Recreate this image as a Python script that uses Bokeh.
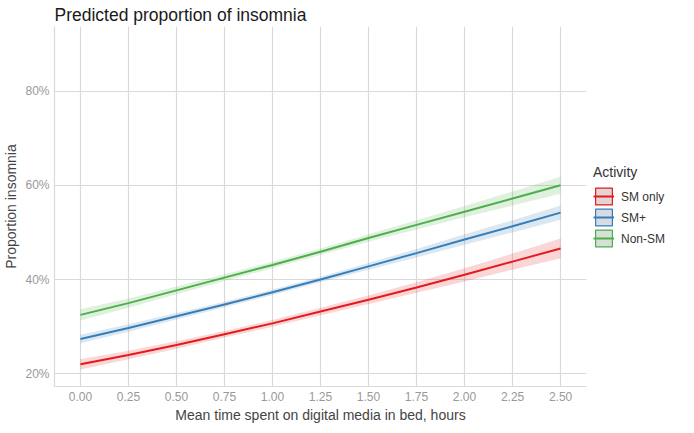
from bokeh.plotting import figure
from bokeh.models import Range1d, FixedTicker, NumeralTickFormatter, Legend, LegendItem
from bokeh.embed import file_html
from bokeh.resources import INLINE

# ---- data ----
hours = [0.0, 0.25, 0.5, 0.75, 1.0, 1.25, 1.5, 1.75, 2.0, 2.25, 2.5]

sm_only_fit = [0.220, 0.240, 0.261, 0.284, 0.307, 0.332, 0.357, 0.383, 0.410, 0.438, 0.466]
sm_only_lo = [0.209, 0.231, 0.253, 0.277, 0.300, 0.324, 0.348, 0.372, 0.396, 0.421, 0.445]
sm_only_hi = [0.231, 0.249, 0.269, 0.291, 0.314, 0.340, 0.366, 0.394, 0.424, 0.455, 0.487]

sm_plus_fit = [0.274, 0.297, 0.322, 0.347, 0.373, 0.400, 0.428, 0.456, 0.485, 0.513, 0.542]
sm_plus_lo = [0.265, 0.289, 0.315, 0.341, 0.367, 0.394, 0.421, 0.447, 0.474, 0.500, 0.527]
sm_plus_hi = [0.283, 0.305, 0.329, 0.353, 0.379, 0.406, 0.435, 0.465, 0.496, 0.526, 0.557]

non_sm_fit = [0.325, 0.350, 0.377, 0.404, 0.431, 0.459, 0.488, 0.516, 0.544, 0.572, 0.600]
non_sm_lo = [0.313, 0.340, 0.369, 0.397, 0.424, 0.452, 0.480, 0.506, 0.532, 0.557, 0.582]
non_sm_hi = [0.337, 0.360, 0.385, 0.411, 0.438, 0.466, 0.496, 0.526, 0.556, 0.587, 0.618]

labels = ["SM only", "SM+", "Non-SM"]
colors = ["#E41A1C", "#377EB8", "#4DAF4A"]
key_fills = ["#e3d5d5", "#d6dce2", "#d7e0d6"]

x_ticks = [0.0, 0.25, 0.5, 0.75, 1.0, 1.25, 1.5, 1.75, 2.0, 2.25, 2.5]
y_ticks = [0.2, 0.4, 0.6, 0.8]

FONT = "Liberation Sans"
GRID = "#d9d9d9"

p = figure(frame_width=532, frame_height=360, output_backend="svg", toolbar_location=None,
           x_range=Range1d(-0.135, 2.635), y_range=Range1d(0.173, 0.937),
           min_border_left=2, min_border_right=0, min_border_top=2, min_border_bottom=2)
p.outline_line_color = None
p.background_fill_color = "white"
p.border_fill_color = "white"

p.title.text = "Predicted proportion of insomnia"
p.title.text_font = FONT
p.title.text_font_size = "17.5px"
p.title.text_font_style = "normal"
p.title.text_color = "#1a1a1a"
p.title.align = "left"
p.title.standoff = 4

series = [
    (sm_only_fit, sm_only_lo, sm_only_hi),
    (sm_plus_fit, sm_plus_lo, sm_plus_hi),
    (non_sm_fit, non_sm_lo, non_sm_hi),
]

items = []
for (fit, lo, hi), lab, col, kf in zip(series, labels, colors, key_fills):
    p.varea(x=hours, y1=lo, y2=hi, fill_color=col, fill_alpha=0.18)
    ln = p.line(x=hours, y=fit, line_color=col, line_width=2)
    # legend key box only (placed outside the visible range)
    key = p.quad(left=[-10], right=[-9], top=[-9], bottom=[-10],
                 fill_color=kf, line_color=col, line_width=1.2)
    items.append(LegendItem(label=lab, renderers=[key, ln]))

legend = Legend(items=items, title="Activity", location="center_left",
                orientation="vertical", padding=12, margin=7, spacing=0,
                glyph_width=21, glyph_height=21, label_height=21,
                label_standoff=7, border_line_color=None,
                background_fill_alpha=0)
legend.title_text_font = FONT
legend.title_text_font_size = "14px"
legend.title_text_font_style = "normal"
legend.title_text_color = "#333333"
legend.title_standoff = 6
legend.label_text_font = FONT
legend.label_text_font_size = "12px"
legend.label_text_color = "#333333"
p.add_layout(legend, "right")

# axes
p.xaxis.ticker = FixedTicker(ticks=x_ticks)
p.yaxis.ticker = FixedTicker(ticks=y_ticks)
p.xaxis.formatter = NumeralTickFormatter(format="0.00")
p.yaxis.formatter = NumeralTickFormatter(format="0%")
p.xaxis.axis_label = "Mean time spent on digital media in bed, hours"
p.yaxis.axis_label = "Proportion insomnia"
for ax in (p.xaxis, p.yaxis):
    ax.axis_label_text_font = FONT
    ax.axis_label_text_font_size = "14px"
    ax.axis_label_text_font_style = "normal"
    ax.axis_label_text_color = "#444444"
    ax.major_label_text_font = FONT
    ax.major_label_text_font_size = "12px"
    ax.major_label_text_color = "#999999"
    ax.axis_line_color = GRID
    ax.axis_line_width = 1.2
    ax.major_tick_in = 0
    ax.major_tick_out = 0
    ax.minor_tick_in = 0
    ax.minor_tick_out = 0
    ax.major_label_standoff = 5
p.xaxis.axis_label_standoff = 3
p.yaxis.axis_label_standoff = 3

p.xgrid.grid_line_color = GRID
p.ygrid.grid_line_color = GRID
p.xgrid.grid_line_width = 1.2
p.ygrid.grid_line_width = 1.2

open("out.html", "w").write(file_html(p, INLINE))
